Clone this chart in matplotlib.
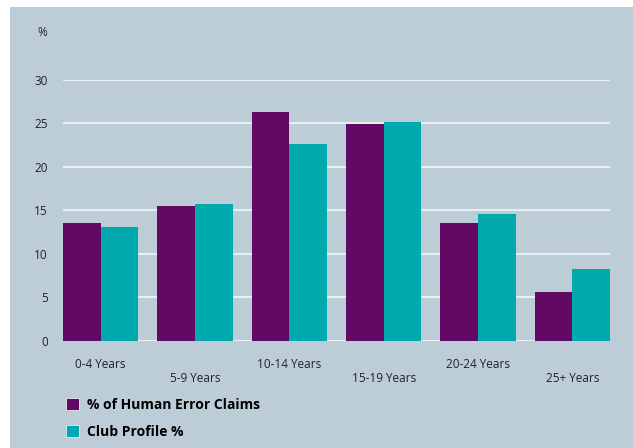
import matplotlib.pyplot as plt
from matplotlib.patches import Rectangle, Patch

plt.rcParams['font.family'] = ['Open Sans', 'DejaVu Sans']

categories = ['0-4 Years', '5-9 Years', '10-14 Years', '15-19 Years', '20-24 Years', '25+ Years']
human_error = [13.6, 15.5, 26.3, 24.9, 13.6, 5.6]
club_profile = [13.1, 15.7, 22.6, 25.2, 14.6, 8.3]
yticks = [0, 5, 10, 15, 20, 25, 30]

purple = '#620a63'
teal = '#00a9ac'
panel = '#bdcdd7'

fig = plt.figure(figsize=(6.33, 4.48), dpi=100)
fig.patches.append(Rectangle((10 / 633, 0), 1, 1 - 7 / 448, transform=fig.transFigure,
                             facecolor=panel, edgecolor='none', zorder=-10))

ax = fig.add_axes([63 / 633, 1 - 341 / 448, (610 - 63) / 633, (341 - 79.7) / 448])
ax.patch.set_visible(False)

x = list(range(len(categories)))
w = 0.4
ax.bar([i - w / 2 for i in x], human_error, w, color=purple, zorder=3)
ax.bar([i + w / 2 for i in x], club_profile, w, color=teal, zorder=3)

ax.set_xlim(-0.4, len(categories) - 1 + 0.4)
ax.set_ylim(0, 30)
ax.set_yticks(yticks)
ax.yaxis.grid(True, color='#f2f5f7', lw=1.2, zorder=1)
for s in ax.spines.values():
    s.set_visible(False)
ax.tick_params(axis='y', length=0, pad=11, labelsize=8.5, labelcolor='#222222')
ax.set_xticks(x)
ax.set_xticklabels(categories)
ax.tick_params(axis='x', length=0, labelsize=8.5, labelcolor='#222222')
for i, t in enumerate(ax.xaxis.get_major_ticks()):
    t.set_pad(12 if i % 2 == 0 else 22)

fig.text(42 / 633, 1 - 33 / 448, '%', fontsize=8.5, color='#222222', ha='center', va='center')

handles = [Patch(facecolor=purple, edgecolor='#e8eef2', lw=0.6),
           Patch(facecolor=teal, edgecolor='#e8eef2', lw=0.6)]
leg = fig.legend(handles, ['% of Human Error Claims', 'Club Profile %'],
                 loc='upper left', bbox_to_anchor=(53 / 633, 1 - 385 / 448),
                 frameon=False, handlelength=1.0, handleheight=1.0,
                 handletextpad=0.55, labelspacing=0.95, prop={'weight': 'bold', 'size': 10})

fig.savefig('out.png', dpi=100)
